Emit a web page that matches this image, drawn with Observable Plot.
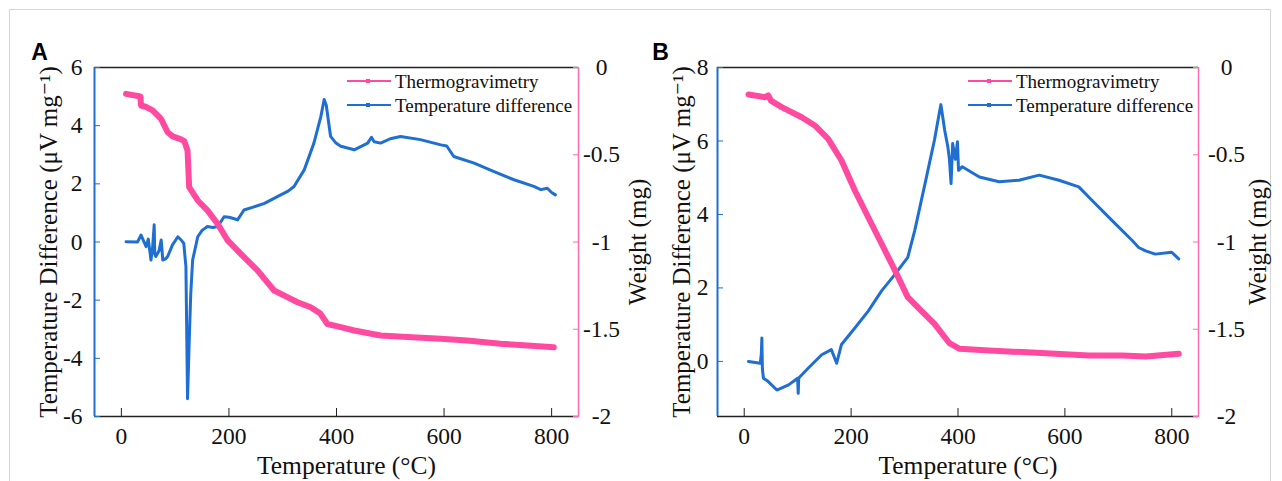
<!DOCTYPE html>
<html><head><meta charset="utf-8">
<script src="https://cdn.jsdelivr.net/npm/d3@7"></script>
<script src="https://cdn.jsdelivr.net/npm/@observablehq/plot@0.6"></script>
<style>
body{margin:0;background:#fff;}
#wrap{position:relative;width:1282px;height:481px;overflow:hidden;background:#fff;}
#border{position:absolute;left:9px;top:9px;width:1262px;height:520px;border:1px solid #d6d6d6;box-sizing:border-box;}
.panel{position:absolute;top:0;}
.panel svg text{font-family:"Liberation Serif","Tinos","DejaVu Serif",serif;}
.panel svg .lbl text{font-family:"Liberation Sans",Arial,sans-serif;}
</style></head><body><div id="wrap"><div id="border"></div></div>
<script>
// ---------- data ----------
const xTicks = [0, 200, 400, 600, 800];
const weightTicks = [0, -0.5, -1, -1.5, -2];
const weightTickLabels = ["0", "-0.5", "-1", "-1.5", "-2"];
const yTicksA = [-6, -4, -2, 0, 2, 4, 6];
const yTicksA_labels = ["-6", "-4", "-2", "0", "2", "4", "6"];
const yTicksB = [0, 2, 4, 6, 8];
const yTicksB_labels = ["0", "2", "4", "6", "8"];
const seriesNames = ["Thermogravimetry", "Temperature difference"];

// Panel A – temperature difference (µV/mg)
const tempA_TD = [8.7,30,36.6,41,46,50,55,58,61,62,64,70,74,77,82,86,95,105,112,116,120,123,126,129,132.5,142,150,160,170,179,191,200,210,216,228,245,266,290,310,321,340,358,371,377,381,389,399,408,433,458,465,470,482,500,519,556,594,605,618,656,693,730,767,780,792,800,807];
const diffA    = [0.01,0,0.24,0.05,-0.16,0.1,-0.62,-0.2,0.59,-0.4,-0.5,-0.3,0.07,-0.62,-0.58,-0.5,-0.1,0.18,0.05,-0.05,-0.85,-5.39,-3.5,-1.77,-0.62,0.18,0.4,0.53,0.5,0.53,0.87,0.85,0.8,0.76,1.1,1.2,1.33,1.56,1.75,1.91,2.48,3.4,4.32,4.9,4.7,3.63,3.4,3.29,3.17,3.4,3.6,3.45,3.4,3.55,3.63,3.52,3.34,3.3,2.94,2.71,2.42,2.14,1.91,1.8,1.85,1.7,1.62];
// Panel A – thermogravimetry (mg)
const tempA_TG = [8.7,35.4,36.6,45,58,73.7,86,95.4,110,117,123,126,142,160,179,197.6,222,253,284,303,327.6,352,370,383,408,433,482,532,594,643,705,755,804];
const weightA  = [-0.151,-0.166,-0.218,-0.225,-0.246,-0.294,-0.371,-0.395,-0.41,-0.422,-0.476,-0.686,-0.762,-0.819,-0.896,-0.991,-1.068,-1.163,-1.278,-1.307,-1.345,-1.374,-1.41,-1.47,-1.488,-1.507,-1.536,-1.545,-1.555,-1.564,-1.583,-1.593,-1.603];

// Panel B – temperature difference (µV/mg)
const tempB_TD = [8,30,32,33,34,36,45,61,83,100,101,102,120,145,163,173,182,207,232,257,282,306,319,337,356,365,368,372,375,381,384,387,390,395,399,401,408,440,477,514,552,589,626,651,688,726,738,751,769,800,813];
const diffB    = [0,-0.05,0.2,0.64,-0.2,-0.46,-0.55,-0.78,-0.64,-0.46,-0.87,-0.45,-0.18,0.18,0.32,-0.05,0.46,0.91,1.37,1.92,2.37,2.83,3.56,4.75,6.03,6.76,6.99,6.6,6.3,5.84,5.5,4.84,5.93,5.5,5.98,5.2,5.3,5.02,4.89,4.93,5.07,4.93,4.75,4.38,3.84,3.29,3.1,3.01,2.92,2.97,2.79];
// Panel B – thermogravimetry (mg)
const tempB_TG = [8,39,45,50,70,107.5,132,157,182,207,232,257,282,306,331,356,384,403,458,521,583,645,707,751,813];
const weightB  = [-0.155,-0.17,-0.16,-0.19,-0.227,-0.285,-0.332,-0.409,-0.533,-0.705,-0.858,-1.01,-1.163,-1.316,-1.393,-1.469,-1.58,-1.612,-1.622,-1.631,-1.641,-1.65,-1.65,-1.656,-1.641];

// ---------- drawing ----------
const pink = "#ff4aa0", blue = "#1e6fd1", pinkAxis = "#ff6cb6";
const serif = "Liberation Serif, Tinos, DejaVu Serif, serif";
const xDomain = [-50, 850];
const weightDomain = [-2, 0];

function panel(o) {
  const [y0, y1] = o.yDomain;
  const wToY = w => y0 + (w - weightDomain[0]) / (weightDomain[1] - weightDomain[0]) * (y1 - y0);
  const td = o.tdT.map((t, i) => ({t, v: o.tdV[i]}));
  const tg = o.tgT.map((t, i) => ({t, w: o.tgW[i]}));
  return Plot.plot({
    width: o.width, height: 481,
    marginLeft: 94, marginRight: o.marginRight, marginTop: 67, marginBottom: 65,
    x: {domain: xDomain},
    y: {domain: o.yDomain},
    style: {fontFamily: serif, fontSize: "23.5px", color: "#111", background: "transparent", overflow: "visible"},
    marks: [
      Plot.ruleY([y1], {stroke: "#222", strokeWidth: 1.5}),
      Plot.ruleY([y0], {stroke: "#222", strokeWidth: 1.5}),
      Plot.ruleX([xDomain[0]], {stroke: blue, strokeWidth: 2}),
      Plot.ruleX([xDomain[1]], {stroke: pinkAxis, strokeWidth: 1.5}),
      Plot.line(td, {x: "t", y: "v", stroke: blue, strokeWidth: 3, strokeLinejoin: "round"}),
      Plot.line(tg, {x: "t", y: d => wToY(d.w), stroke: pink, strokeWidth: 6, strokeLinejoin: "round"}),
      Plot.axisX({ticks: xTicks, tickSize: -8, tickPadding: 19, stroke: "#222", fill: "#111", label: null}),
      Plot.axisY({anchor: "left", ticks: o.yTicks, tickFormat: (d, i) => o.yLabels[i], tickSize: -6, tickPadding: o.leftPad, stroke: blue, fill: "#111", label: null}),
      Plot.axisY({anchor: "right", ticks: weightTicks.map(wToY), tickFormat: () => "", tickSize: -6, stroke: pinkAxis, label: null}),
      Plot.text(weightTicks, {y: d => wToY(d), frameAnchor: "right", dx: o.rightDx, text: (d, i) => weightTickLabels[i], textAnchor: "middle", fill: "#111"}),
      Plot.text(["Temperature Difference (μV mg⁻¹)"], {frameAnchor: "left", rotate: -90, dx: o.leftTitleDx, text: d => d, textAnchor: "middle", lineAnchor: "middle", fontSize: 25, fill: "#111"}),
      Plot.text(["Weight (mg)"], {frameAnchor: "right", rotate: -90, dx: 59, text: d => d, textAnchor: "middle", lineAnchor: "middle", fontSize: 25, fill: "#111"}),
      Plot.text(["Temperature (°C)"], {frameAnchor: "bottom", dy: 49, dx: 10, text: d => d, textAnchor: "middle", lineAnchor: "middle", fontSize: 25.5, fill: "#111"}),
      Plot.text([o.letter], {frameAnchor: "top-left", dx: o.letterDx, dy: -15, text: d => d, textAnchor: "middle", lineAnchor: "middle", fontSize: 23, fontWeight: "bold", fill: "#000", className: "lbl"})
    ]
  });
}

const wrap = document.getElementById("wrap");
function place(svg, left) {
  const d = document.createElement("div");
  d.className = "panel"; d.style.left = left + "px";
  d.appendChild(svg); wrap.appendChild(d);
}
place(panel({width: 630, marginRight: 52, yDomain: [-6, 6], yTicks: yTicksA, yLabels: yTicksA_labels,
  tdT: tempA_TD, tdV: diffA, tgT: tempA_TG, tgW: weightA, letter: "A", leftPad: 18, leftTitleDx: -46, rightDx: 23, letterDx: -55}), 0);
place(panel({width: 659, marginRight: 84, yDomain: [-1.5, 8], yTicks: yTicksB, yLabels: yTicksB_labels,
  tdT: tempB_TD, tdV: diffB, tgT: tempB_TG, tgW: weightB, letter: "B", leftPad: 15, leftTitleDx: -36, rightDx: 28, letterDx: -57}), 623);

// legends
function legend(x0) {
  const svg = d3.create("svg").attr("width", 1282).attr("height", 481)
    .style("position", "absolute").style("left", "0px").style("top", "0px");
  const rows = [{c: pink, y: 81}, {c: blue, y: 105}];
  rows.forEach((r, i) => {
    svg.append("line").attr("x1", x0).attr("x2", x0 + 44).attr("y1", r.y).attr("y2", r.y).attr("stroke", r.c).attr("stroke-width", 2);
    svg.append("rect").attr("x", x0 + 19).attr("y", r.y - 2).attr("width", 4).attr("height", 4).attr("fill", r.c);
    svg.append("text").attr("x", x0 + 48).attr("y", r.y).attr("dy", "0.35em")
      .style("font-family", serif).attr("font-size", 19).attr("fill", "#111").text(seriesNames[i]);
  });
  wrap.appendChild(svg.node());
}
legend(347);
legend(968);
</script>
</body></html>
